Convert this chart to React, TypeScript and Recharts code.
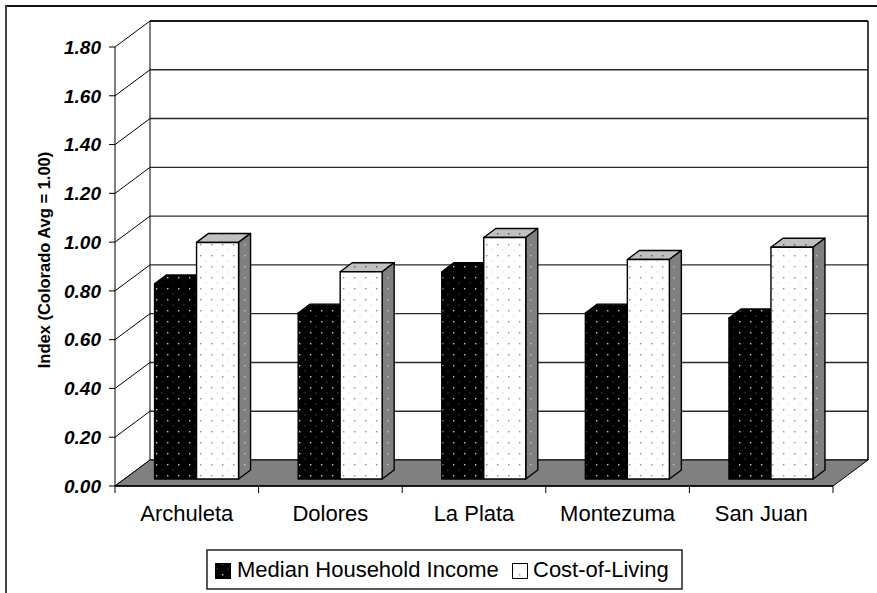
import React from 'react';
import { BarChart, Bar, XAxis, YAxis, CartesianGrid, Customized } from 'recharts';

const counties = ['Archuleta', 'Dolores', 'La Plata', 'Montezuma', 'San Juan'];
const medianIncome = [0.8, 0.68, 0.85, 0.68, 0.66];
const costOfLiving = [0.97, 0.85, 0.99, 0.9, 0.95];
const seriesNames = ['Median Household Income', 'Cost-of-Living'];
const yTicks = [0, 0.2, 0.4, 0.6, 0.8, 1.0, 1.2, 1.4, 1.6, 1.8];

const data = counties.map((name, i) => ({
  name,
  income: medianIncome[i],
  cost: costOfLiving[i],
}));

const W = 877;
const H = 593;
const FONT = 'Liberation Sans, Arial, sans-serif';

// front plane of the plot (margin + axis sizes below)
const PLOT = { left: 115, top: 47, right: 833, bottom: 486 };
// depth of the 3D box (front plane -> back wall)
const WALL = { dx: 35, dy: -26 };
// bars stand a bit behind the front plane and have their own depth
const BAR_OFF = { dx: 9.4, dy: -7 };
const BAR_DEPTH = { dx: 12, dy: -9 };

const Patterns = () => (
  <defs>
    <pattern id="patBlack" width="11" height="11" patternUnits="userSpaceOnUse">
      <rect width="11" height="11" fill="#000" />
      <rect x="2" y="2" width="1.4" height="1.4" fill="#c8c8c8" />
      <rect x="7.5" y="7.5" width="1" height="1" fill="#6a6a6a" />
    </pattern>
    <pattern id="patWhite" width="11" height="11" patternUnits="userSpaceOnUse">
      <rect width="11" height="11" fill="#fff" />
      <rect x="2" y="2" width="1.4" height="1.4" fill="#8a8a8a" />
      <rect x="7.5" y="7.5" width="1" height="1" fill="#c4c4c4" />
    </pattern>
    <pattern id="patTop" width="11" height="11" patternUnits="userSpaceOnUse">
      <rect width="11" height="11" fill="#c0c0c0" />
      <rect x="2" y="2" width="1.4" height="1.4" fill="#555" />
    </pattern>
    <pattern id="patSide" width="11" height="11" patternUnits="userSpaceOnUse">
      <rect width="11" height="11" fill="#808080" />
      <rect x="2" y="2" width="1.4" height="1.4" fill="#c8c8c8" />
    </pattern>
  </defs>
);

const Bar3D = (props: any) => {
  const { x, y, width, height, front, top, side } = props;
  if (width == null || height == null) return null;
  const fx = x + BAR_OFF.dx;
  const fy = y + BAR_OFF.dy;
  const { dx, dy } = BAR_DEPTH;
  const pts = (a: number[][]) => a.map((p) => p.join(',')).join(' ');
  return (
    <g stroke="#000" strokeWidth={1.4} strokeLinejoin="round">
      <polygon
        points={pts([[fx, fy], [fx + dx, fy + dy], [fx + width + dx, fy + dy], [fx + width, fy]])}
        fill={top}
      />
      <polygon
        points={pts([
          [fx + width, fy],
          [fx + width + dx, fy + dy],
          [fx + width + dx, fy + height + dy],
          [fx + width, fy + height],
        ])}
        fill={side}
      />
      <rect x={fx} y={fy} width={width} height={height} fill={front} />
    </g>
  );
};

// back/side wall lines for each y tick
const GridLine = (props: any) => {
  const { x1, y1, x2 } = props;
  const bx1 = x1 + WALL.dx;
  const bx2 = x2 + WALL.dx;
  const by = y1 + WALL.dy;
  return (
    <g key={`grid-${y1}`}>
      <line x1={x1} y1={y1} x2={bx1} y2={by} stroke="#000" strokeWidth={1} />
      <line x1={bx1} y1={by} x2={bx2} y2={by} stroke="#2a2a2a" strokeWidth={1.4} />
    </g>
  );
};

const Backdrop = () => {
  const { left, top, right, bottom } = PLOT;
  const band = (right - left) / counties.length;
  const backTop = top + WALL.dy;
  const backBottom = bottom + WALL.dy;
  const floor = [
    [left, bottom],
    [right, bottom],
    [right + WALL.dx, backBottom],
    [left + WALL.dx, backBottom],
  ]
    .map((p) => p.join(','))
    .join(' ');
  const legendY = 550;
  return (
    <g>
      <Patterns />
      {/* outer frame */}
      <line x1={5} y1={6} x2={W} y2={6} stroke="#111" strokeWidth={2} />
      <line x1={6} y1={5} x2={6} y2={H} stroke="#444" strokeWidth={2} />

      {/* back wall edges */}
      <line x1={left + WALL.dx} y1={backTop} x2={left + WALL.dx} y2={backBottom} stroke="#000" strokeWidth={1} />
      <line x1={right + WALL.dx} y1={backTop} x2={right + WALL.dx} y2={backBottom} stroke="#000" strokeWidth={1.5} />
      <line x1={left + WALL.dx} y1={backTop} x2={right + WALL.dx} y2={backTop} stroke="#000" strokeWidth={1.5} />

      {/* floor */}
      <polygon points={floor} fill="#808080" stroke="#000" strokeWidth={1} />

      {/* category separators below the floor */}
      {Array.from({ length: counties.length + 1 }, (_, i) => (
        <line
          key={`sep-${i}`}
          x1={left + band * i}
          y1={bottom}
          x2={left + band * i}
          y2={bottom + 7}
          stroke="#000"
          strokeWidth={1}
        />
      ))}

      {/* y axis title */}
      <text
        x={50}
        y={260}
        transform="rotate(-90 50 260)"
        textAnchor="middle"
        fontFamily={FONT}
        fontWeight="bold"
        fontSize={16.5}
        fill="#000"
      >
        Index (Colorado Avg = 1.00)
      </text>

      {/* legend */}
      <rect x={207} y={legendY} width={475} height={39} fill="#fff" stroke="#222" strokeWidth={1.5} />
      <rect x={215.5} y={legendY + 13.5} width={15} height={15} fill="url(#patBlack)" stroke="#000" />
      <text x={237} y={legendY + 27} fontFamily={FONT} fontSize={22} fill="#000">
        {seriesNames[0]}
      </text>
      <rect x={512.5} y={legendY + 13.5} width={15} height={15} fill="url(#patWhite)" stroke="#000" />
      <text x={533} y={legendY + 27} fontFamily={FONT} fontSize={22} fill="#000">
        {seriesNames[1]}
      </text>
    </g>
  );
};

export default function App() {
  return (
    <div style={{ width: W, height: H, background: '#fff', fontFamily: FONT }}>
      <style>{'body{margin:0}'}</style>
      <BarChart
        width={W}
        height={H}
        data={data}
        margin={{ top: PLOT.top, right: W - PLOT.right, left: 0, bottom: 0 }}
        barCategoryGap="21%"
        barGap={0}
      >
        <CartesianGrid vertical={false} horizontal={(p: any) => <GridLine {...p} />} />
        <Customized component={<Backdrop />} />
        <XAxis
          dataKey="name"
          height={H - PLOT.bottom}
          axisLine={{ stroke: '#000', strokeWidth: 1.5 }}
          tickLine={false}
          tickSize={8}
          tickMargin={11}
          tick={{ fill: '#000', fontSize: 22, fontFamily: FONT }}
        />
        <YAxis
          width={PLOT.left}
          domain={[0, 1.8]}
          ticks={yTicks}
          interval={0}
          tickFormatter={(v: number) => v.toFixed(2)}
          axisLine={{ stroke: '#000', strokeWidth: 1 }}
          tickLine={{ stroke: '#000' }}
          tickSize={6}
          tickMargin={8}
          tick={{ fill: '#000', fontSize: 19, fontFamily: FONT, fontWeight: 'bold', fontStyle: 'italic' }}
        />
        <Bar
          dataKey="income"
          name={seriesNames[0]}
          isAnimationActive={false}
          shape={(p: any) => <Bar3D {...p} front="url(#patBlack)" top="url(#patBlack)" side="url(#patBlack)" />}
        />
        <Bar
          dataKey="cost"
          name={seriesNames[1]}
          isAnimationActive={false}
          shape={(p: any) => <Bar3D {...p} front="url(#patWhite)" top="url(#patTop)" side="url(#patSide)" />}
        />
      </BarChart>
    </div>
  );
}
